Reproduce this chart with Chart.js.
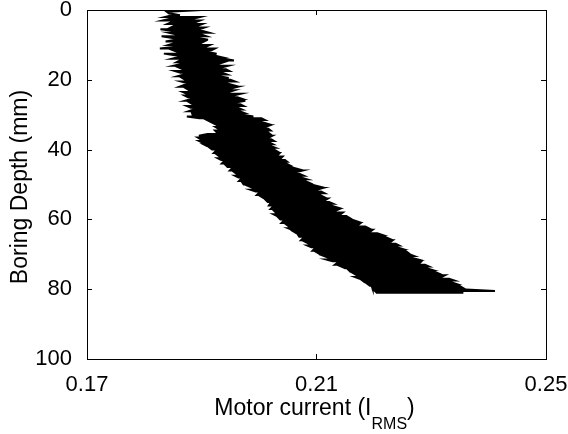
<!DOCTYPE html>
<html lang="en">
<head>
    <meta charset="UTF-8">
    <title>Boring depth vs motor current</title>
    <script src="https://cdn.jsdelivr.net/npm/chart.js"></script>
    <style>
        html, body { margin: 0; padding: 0; background: #fff; }
        canvas { display: block; }
    </style>
</head>
<body>
    <canvas id="chart" width="568" height="434"></canvas>

    <script>
        // depth in mm, sampled every 0.5 mm
        const depthMm = [
            0, 0.5, 1, 1.5, 2, 2.5, 3, 3.5, 4, 4.5,
            5, 5.5, 6, 6.5, 7, 7.5, 8, 8.5, 9, 9.5,
            10, 10.5, 11, 11.5, 12, 12.5, 13, 13.5, 14, 14.5,
            15, 15.5, 16, 16.5, 17, 17.5, 18, 18.5, 19, 19.5,
            20, 20.5, 21, 21.5, 22, 22.5, 23, 23.5, 24, 24.5,
            25, 25.5, 26, 26.5, 27, 27.5, 28, 28.5, 29, 29.5,
            30, 30.5, 31, 31.5, 32, 32.5, 33, 33.5, 34, 34.5,
            35, 35.5, 36, 36.5, 37, 37.5, 38, 38.5, 39, 39.5,
            40, 40.5, 41, 41.5, 42, 42.5, 43, 43.5, 44, 44.5,
            45, 45.5, 46, 46.5, 47, 47.5, 48, 48.5, 49, 49.5,
            50, 50.5, 51, 51.5, 52, 52.5, 53, 53.5, 54, 54.5,
            55, 55.5, 56, 56.5, 57, 57.5, 58, 58.5, 59, 59.5,
            60, 60.5, 61, 61.5, 62, 62.5, 63, 63.5, 64, 64.5,
            65, 65.5, 66, 66.5, 67, 67.5, 68, 68.5, 69, 69.5,
            70, 70.5, 71, 71.5, 72, 72.5, 73, 73.5, 74, 74.5,
            75, 75.5, 76, 76.5, 77, 77.5, 78, 78.5, 79, 79.5,
            80, 80.5, 81
        ];

        // low and high swing of the current at each depth (I_RMS)
        const currentLow = [
            0.1815, 0.1839, 0.1843, 0.1848, 0.1836, 0.1845, 0.1832, 0.1847, 0.1840, 0.1852,
            0.1846, 0.1828, 0.1851, 0.1843, 0.1856, 0.1830, 0.1849, 0.1854, 0.1837, 0.1852,
            0.1842, 0.1855, 0.1827, 0.1850, 0.1858, 0.1834, 0.1853, 0.1860, 0.1848, 0.1862,
            0.1856, 0.1864, 0.1851, 0.1860, 0.1867, 0.1853, 0.1863, 0.1869, 0.1858, 0.1866,
            0.1871, 0.1864, 0.1875, 0.1869, 0.1861, 0.1873, 0.1878, 0.1867, 0.1874, 0.1870,
            0.1876, 0.1882, 0.1871, 0.1879, 0.1884, 0.1874, 0.1881, 0.1886, 0.1877, 0.1883,
            0.1884, 0.1874, 0.1896, 0.1909, 0.1915, 0.1921, 0.1927, 0.1924, 0.1929, 0.1923,
            0.1926, 0.1910, 0.1895, 0.1893, 0.1898, 0.1895, 0.1901, 0.1903, 0.1909, 0.1914,
            0.1918, 0.1924, 0.1921, 0.1927, 0.1931, 0.1928, 0.1934, 0.1938, 0.1935, 0.1942,
            0.1945, 0.1952, 0.1949, 0.1957, 0.1961, 0.1958, 0.1964, 0.1968, 0.1965, 0.1971,
            0.1973, 0.1982, 0.1989, 0.1985, 0.1994, 0.1999, 0.1996, 0.2004, 0.2009, 0.2012,
            0.2015, 0.2019, 0.2017, 0.2023, 0.2020, 0.2026, 0.2029, 0.2025, 0.2031, 0.2034,
            0.2037, 0.2042, 0.2039, 0.2048, 0.2052, 0.2050, 0.2057, 0.2060, 0.2065, 0.2068,
            0.2070, 0.2076, 0.2073, 0.2081, 0.2087, 0.2084, 0.2091, 0.2096, 0.2093, 0.2101,
            0.2106, 0.2113, 0.2121, 0.2117, 0.2128, 0.2136, 0.2132, 0.2143, 0.2150, 0.2156,
            0.2159, 0.2165, 0.2170, 0.2167, 0.2175, 0.2180, 0.2184, 0.2189, 0.2193, 0.2197,
            0.2198, 0.2202, 0.2205
        ];

        const currentHigh = [
            0.1900, 0.1841, 0.1846, 0.1862, 0.1897, 0.1885, 0.1897, 0.1889, 0.1901, 0.1893,
            0.1905, 0.1896, 0.1902, 0.1913, 0.1899, 0.1908, 0.1894, 0.1911, 0.1904, 0.1898,
            0.1914, 0.1907, 0.1923, 0.1917, 0.1910, 0.1926, 0.1920, 0.1933, 0.1940, 0.1956,
            0.1938, 0.1929, 0.1946, 0.1934, 0.1942, 0.1948, 0.1936, 0.1944, 0.1931, 0.1947,
            0.1950, 0.1958, 0.1943, 0.1954, 0.1963, 0.1951, 0.1957, 0.1947, 0.1968, 0.1955,
            0.1962, 0.1971, 0.1976, 0.1959, 0.1967, 0.1973, 0.1963, 0.1970, 0.1966, 0.1974,
            0.1972, 0.1990, 0.2004, 0.2010, 0.2003, 0.2013, 0.2019, 0.2011, 0.2016, 0.2020,
            0.2015, 0.2019, 0.2023, 0.2017, 0.2021, 0.2026, 0.2018, 0.2024, 0.2020, 0.2028,
            0.2026, 0.2031, 0.2036, 0.2033, 0.2041, 0.2038, 0.2045, 0.2049, 0.2047, 0.2053,
            0.2055, 0.2066, 0.2076, 0.2064, 0.2071, 0.2078, 0.2073, 0.2083, 0.2080, 0.2087,
            0.2091, 0.2103, 0.2111, 0.2100, 0.2108, 0.2114, 0.2106, 0.2112, 0.2120, 0.2115,
            0.2122, 0.2129, 0.2125, 0.2135, 0.2140, 0.2133, 0.2146, 0.2142, 0.2152, 0.2157,
            0.2161, 0.2170, 0.2177, 0.2173, 0.2185, 0.2191, 0.2198, 0.2194, 0.2206, 0.2215,
            0.2219, 0.2226, 0.2233, 0.2229, 0.2238, 0.2244, 0.2240, 0.2250, 0.2255, 0.2259,
            0.2262, 0.2270, 0.2266, 0.2277, 0.2283, 0.2280, 0.2289, 0.2296, 0.2292, 0.2302,
            0.2306, 0.2313, 0.2324, 0.2318, 0.2331, 0.2340, 0.2335, 0.2344, 0.2349, 0.2354,
            0.2352, 0.2411, 0.2356
        ];

        const xTicks = [0.17, 0.21, 0.25];
        const yTicks = [0, 20, 40, 60, 80, 100];

        const FONT = '"Liberation Sans", Arial, Helvetica, sans-serif';

        // the trace swings back and forth across the band at every depth step
        const trace = [];
        depthMm.forEach((d, i) => {
            if (i % 2 === 0) {
                trace.push({ x: currentLow[i], y: d }, { x: currentHigh[i], y: d });
            } else {
                trace.push({ x: currentHigh[i], y: d }, { x: currentLow[i], y: d });
            }
        });

        // box, inward ticks and the axis titles
        const framePlugin = {
            id: 'frame',
            afterDraw(chart) {
                const { ctx, chartArea: a, scales: { x, y } } = chart;
                ctx.save();
                ctx.strokeStyle = '#000';
                ctx.lineWidth = 1;
                ctx.strokeRect(a.left + 0.5, a.top + 0.5, a.right - a.left, a.bottom - a.top);

                const len = 5;
                ctx.beginPath();
                xTicks.forEach(v => {
                    const px = Math.round(x.getPixelForValue(v)) + 0.5;
                    ctx.moveTo(px, a.bottom); ctx.lineTo(px, a.bottom - len);
                    ctx.moveTo(px, a.top); ctx.lineTo(px, a.top + len);
                });
                yTicks.forEach(v => {
                    const py = Math.round(y.getPixelForValue(v)) + 0.5;
                    ctx.moveTo(a.left, py); ctx.lineTo(a.left + len, py);
                    ctx.moveTo(a.right, py); ctx.lineTo(a.right - len, py);
                });
                ctx.stroke();

                ctx.fillStyle = '#000';
                ctx.textBaseline = 'alphabetic';
                ctx.textAlign = 'left';

                // x title with subscript
                const mainFont = '23px ' + FONT;
                const subFont = '16px ' + FONT;
                const part1 = 'Motor current (I', part2 = 'RMS', part3 = ')';
                ctx.font = mainFont;
                const w1 = ctx.measureText(part1).width;
                const w3 = ctx.measureText(part3).width;
                ctx.font = subFont;
                const w2 = ctx.measureText(part2).width;
                let tx = (a.left + a.right) / 2 - (w1 + w2 + w3) / 2 - 2;
                const base = a.bottom + 56;
                ctx.font = mainFont;
                ctx.fillText(part1, tx, base);
                tx += w1;
                ctx.font = subFont;
                ctx.fillText(part2, tx, base + 14);
                tx += w2;
                ctx.font = mainFont;
                ctx.fillText(part3, tx, base);

                // y title
                ctx.translate(21, 187);
                ctx.rotate(-Math.PI / 2);
                ctx.textAlign = 'center';
                ctx.textBaseline = 'middle';
                ctx.font = mainFont;
                ctx.fillText('Boring Depth (mm)', 0, 0);
                ctx.restore();
            }
        };

        function noScalePadding(scale) {
            scale.paddingLeft = 0;
            scale.paddingRight = 0;
            scale.paddingTop = 0;
            scale.paddingBottom = 0;
        }

        new Chart(document.getElementById('chart'), {
            type: 'scatter',
            data: {
                datasets: [{
                    data: trace,
                    showLine: true,
                    borderColor: '#000',
                    borderWidth: 2,
                    pointRadius: 0,
                    tension: 0
                }]
            },
            options: {
                responsive: false,
                animation: false,
                devicePixelRatio: 1,
                layout: { padding: { top: 10, right: 22, bottom: 0, left: 0 } },
                plugins: { legend: { display: false }, tooltip: { enabled: false } },
                scales: {
                    x: {
                        type: 'linear',
                        min: 0.17,
                        max: 0.25,
                        afterBuildTicks: s => { s.ticks = xTicks.map(v => ({ value: v })); },
                        afterFit: s => { s.height = 75; noScalePadding(s); },
                        grid: { display: false },
                        border: { display: false },
                        ticks: {
                            color: '#000',
                            padding: 5,
                            maxRotation: 0,
                            font: { family: FONT, size: 22 },
                            callback: v => v.toFixed(2)
                        }
                    },
                    y: {
                        type: 'linear',
                        reverse: true,
                        min: 0,
                        max: 100,
                        afterBuildTicks: s => { s.ticks = yTicks.map(v => ({ value: v })); },
                        afterFit: s => { s.width = 87; noScalePadding(s); },
                        grid: { display: false },
                        border: { display: false },
                        ticks: {
                            color: '#000',
                            padding: 7,
                            font: { family: FONT, size: 22 }
                        }
                    }
                }
            },
            plugins: [framePlugin]
        });
    </script>
</body>
</html>
